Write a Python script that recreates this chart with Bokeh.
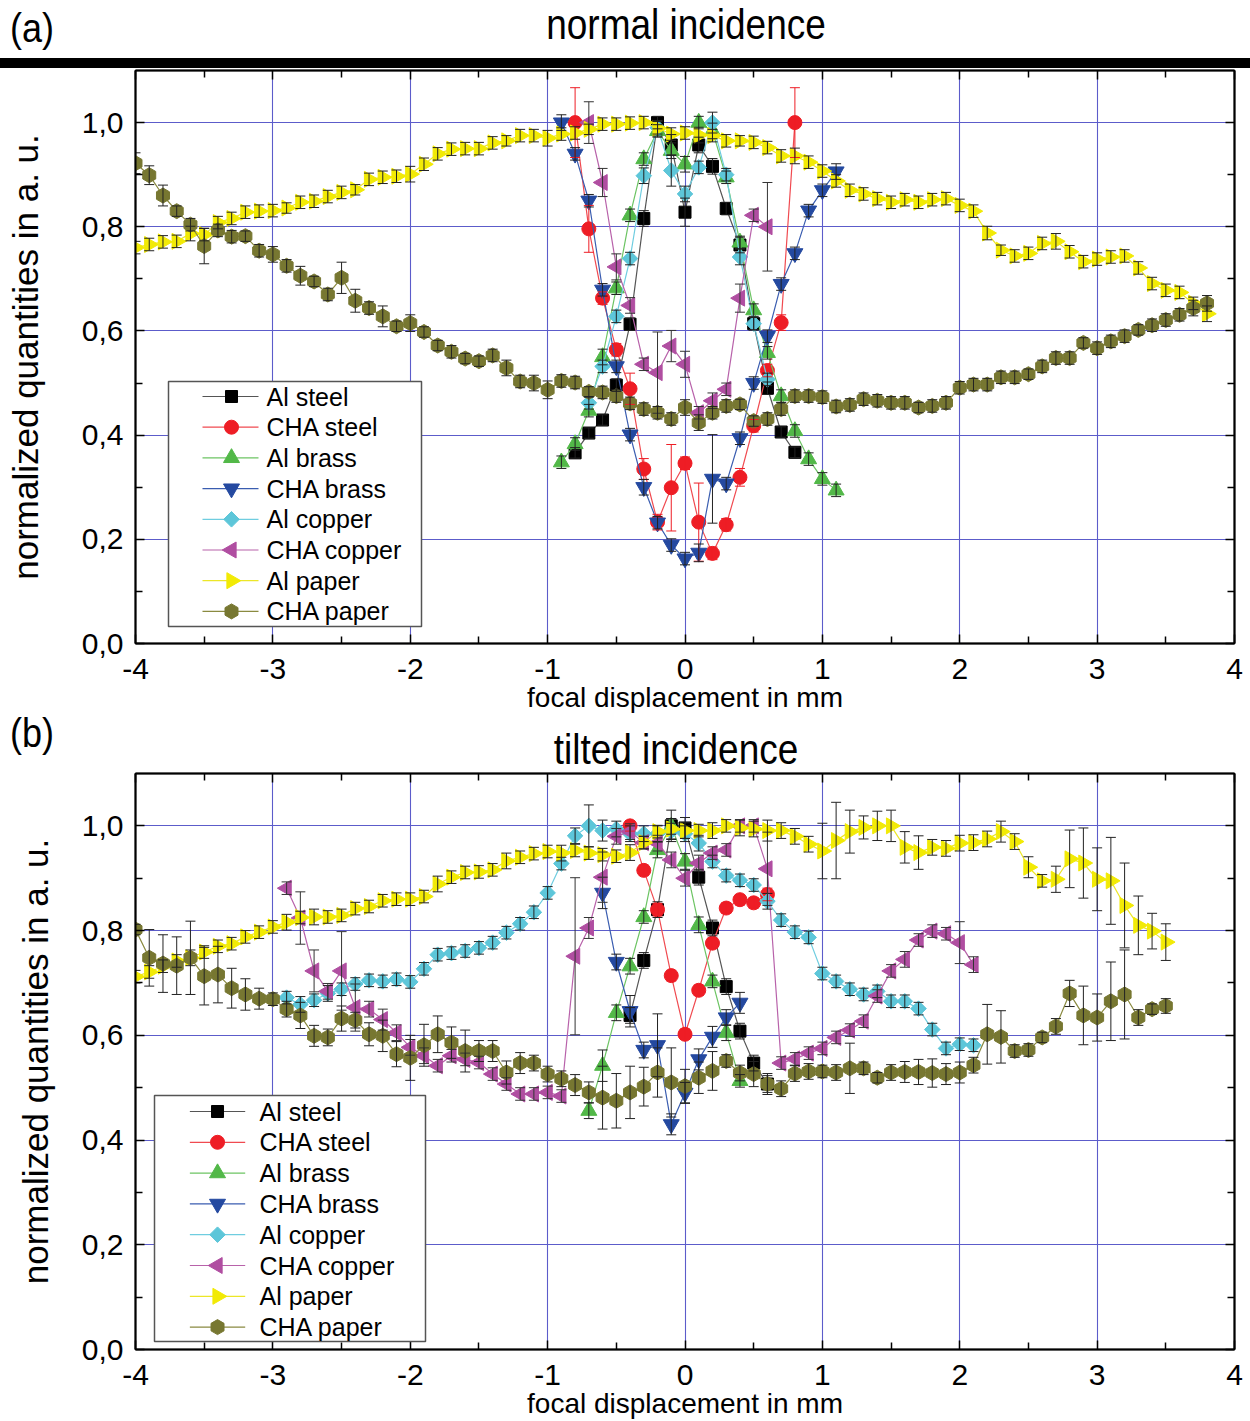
import math
from bokeh.plotting import figure
from bokeh.models import (ColumnDataSource, Whisker, TeeHead, FixedTicker, LinearAxis,
                          Range1d, Label, BoxAnnotation, CustomJSTickFormatter, Div)
from bokeh.layouts import column
from bokeh.embed import file_html
from bokeh.resources import INLINE


def grid(start, n):
    return [round(start + 0.1 * i, 1) for i in range(n)]


SERIES = ["Al steel", "CHA steel", "Al brass", "CHA brass",
          "Al copper", "CHA copper", "Al paper", "CHA paper"]
X_TICKS = [-4, -3, -2, -1, 0, 1, 2, 3, 4]
Y_TICKS = [0.0, 0.2, 0.4, 0.6, 0.8, 1.0]

# ---------------- panel (a): normal incidence ----------------
A_PAPER_X = grid(-4.0, 79)
A_AL_PAPER_Y = [0.760, 0.766, 0.771, 0.772, 0.787, 0.785, 0.808, 0.816, 0.828, 0.830,
                0.831, 0.836, 0.847, 0.849, 0.858, 0.866, 0.871, 0.891, 0.895, 0.897,
                0.901, 0.920, 0.940, 0.949, 0.950, 0.950, 0.961, 0.965, 0.975, 0.975,
                0.970, 0.978, 0.980, 0.987, 0.997, 0.997, 0.999, 1.000, 0.989, 0.978,
                0.980, 0.976, 0.975, 0.965, 0.965, 0.962, 0.952, 0.936, 0.936, 0.924,
                0.907, 0.888, 0.870, 0.863, 0.854, 0.847, 0.852, 0.847, 0.852, 0.854,
                0.841, 0.830, 0.788, 0.755, 0.744, 0.749, 0.768, 0.772, 0.752, 0.733,
                0.738, 0.742, 0.744, 0.721, 0.691, 0.678, 0.674, 0.653, 0.633]
A_AL_PAPER_E = [0.012, 0.012, 0.012, 0.012, 0.014, 0.012, 0.012, 0.012, 0.012, 0.012,
                0.012, 0.010, 0.012, 0.012, 0.012, 0.012, 0.010, 0.012, 0.012, 0.012,
                0.015, 0.012, 0.012, 0.012, 0.012, 0.012, 0.012, 0.010, 0.012, 0.012,
                0.015, 0.012, 0.012, 0.010, 0.012, 0.012, 0.012, 0.012, 0.015, 0.012,
                0.012, 0.015, 0.012, 0.012, 0.010, 0.012, 0.012, 0.012, 0.015, 0.012,
                0.012, 0.012, 0.012, 0.012, 0.012, 0.012, 0.012, 0.012, 0.012, 0.012,
                0.012, 0.012, 0.013, 0.010, 0.012, 0.012, 0.012, 0.015, 0.012, 0.012,
                0.012, 0.012, 0.012, 0.012, 0.012, 0.012, 0.012, 0.012, 0.015]
A_CHA_PAPER_Y = [0.922, 0.899, 0.860, 0.830, 0.804, 0.763, 0.793, 0.781, 0.782, 0.754,
                 0.747, 0.725, 0.706, 0.695, 0.670, 0.702, 0.658, 0.644, 0.628, 0.609,
                 0.615, 0.598, 0.572, 0.560, 0.547, 0.542, 0.553, 0.529, 0.503, 0.500,
                 0.487, 0.504, 0.501, 0.483, 0.482, 0.475, 0.461, 0.450, 0.443, 0.431,
                 0.453, 0.424, 0.443, 0.456, 0.459, 0.427, 0.431, 0.450, 0.475, 0.475,
                 0.473, 0.455, 0.458, 0.469, 0.466, 0.462, 0.462, 0.453, 0.456, 0.462,
                 0.491, 0.497, 0.497, 0.511, 0.511, 0.517, 0.532, 0.548, 0.548, 0.577,
                 0.567, 0.580, 0.590, 0.602, 0.611, 0.621, 0.631, 0.644, 0.653]
A_CHA_PAPER_E = [0.020, 0.018, 0.020, 0.010, 0.012, 0.034, 0.012, 0.012, 0.010, 0.012,
                 0.015, 0.012, 0.018, 0.010, 0.012, 0.030, 0.022, 0.012, 0.020, 0.010,
                 0.016, 0.010, 0.010, 0.012, 0.010, 0.010, 0.012, 0.015, 0.012, 0.015,
                 0.017, 0.012, 0.012, 0.010, 0.012, 0.012, 0.012, 0.012, 0.012, 0.012,
                 0.015, 0.015, 0.012, 0.012, 0.010, 0.010, 0.012, 0.012, 0.012, 0.012,
                 0.012, 0.012, 0.012, 0.012, 0.012, 0.012, 0.012, 0.010, 0.012, 0.012,
                 0.012, 0.012, 0.012, 0.012, 0.012, 0.010, 0.012, 0.012, 0.012, 0.010,
                 0.012, 0.012, 0.012, 0.010, 0.012, 0.012, 0.012, 0.015, 0.015]

A_STEEL_X = grid(-0.8, 17)
A_AL_STEEL_Y = [0.366, 0.404, 0.429, 0.496, 0.613, 0.816, 1.000, 0.957, 0.828, 0.957,
                0.916, 0.835, 0.765, 0.614, 0.490, 0.406, 0.367]
A_AL_STEEL_E = [0.010, 0.010, 0.010, 0.012, 0.012, 0.015, 0.012, 0.020, 0.027, 0.015,
                0.015, 0.012, 0.015, 0.012, 0.012, 0.010, 0.010]
A_CHA_STEEL_Y = [1.000, 0.796, 0.663, 0.564, 0.489, 0.335, 0.233, 0.299, 0.346, 0.233,
                 0.173, 0.228, 0.319, 0.418, 0.524, 0.616, 1.000]
A_CHA_STEEL_E = [0.067, 0.045, 0.012, 0.012, 0.030, 0.020, 0.015, 0.083, 0.012, 0.075,
                 0.012, 0.012, 0.017, 0.012, 0.012, 0.015, 0.067]
A_BRASS_X = grid(-0.9, 21)
A_AL_BRASS_Y = [0.348, 0.383, 0.447, 0.550, 0.682, 0.822, 0.930, 0.984, 0.946, 0.920,
                1.000, 0.984, 0.895, 0.770, 0.640, 0.558, 0.475, 0.408, 0.354, 0.316, 0.294]
A_AL_BRASS_E = [0.012, 0.012, 0.012, 0.015, 0.012, 0.012, 0.012, 0.012, 0.015, 0.015,
                0.012, 0.015, 0.012, 0.012, 0.012, 0.012, 0.012, 0.012, 0.012, 0.012, 0.012]
A_CHA_BRASS_Y = [1.000, 0.940, 0.850, 0.679, 0.532, 0.401, 0.300, 0.232, 0.189, 0.163,
                 0.174, 0.316, 0.307, 0.394, 0.500, 0.590, 0.690, 0.749, 0.831, 0.870, 0.906]
A_CHA_BRASS_E = [0.015, 0.012, 0.012, 0.012, 0.012, 0.012, 0.015, 0.012, 0.012, 0.012,
                 0.017, 0.085, 0.012, 0.012, 0.012, 0.012, 0.012, 0.012, 0.012, 0.012, 0.015]
A_COPPER_X = grid(-0.7, 14)
A_AL_COPPER_Y = [0.462, 0.532, 0.628, 0.739, 0.898, 0.990, 0.908, 0.863, 0.914, 1.000,
                 0.900, 0.742, 0.614, 0.507]
A_AL_COPPER_E = [0.012, 0.012, 0.012, 0.012, 0.015, 0.012, 0.030, 0.015, 0.012, 0.020,
                 0.012, 0.015, 0.012, 0.012]
A_CHA_COPPER_Y = [1.000, 0.885, 0.723, 0.649, 0.536, 0.520, 0.571, 0.536, 0.443, 0.466,
                  0.488, 0.663, 0.822, 0.800]
A_CHA_COPPER_E = [0.040, 0.027, 0.025, 0.015, 0.012, 0.078, 0.030, 0.025, 0.012, 0.015,
                  0.012, 0.027, 0.012, 0.085]

# ---------------- panel (b): tilted incidence ----------------
B_PAPER_X = grid(-4.0, 76)
B_AL_PAPER_Y = [0.712, 0.721, 0.732, 0.742, 0.748, 0.759, 0.770, 0.775, 0.788, 0.797,
                0.807, 0.816, 0.825, 0.826, 0.826, 0.829, 0.842, 0.846, 0.857, 0.860,
                0.860, 0.865, 0.889, 0.902, 0.911, 0.912, 0.916, 0.933, 0.940, 0.947,
                0.951, 0.948, 0.953, 0.948, 0.945, 0.942, 0.949, 0.968, 0.989, 0.994,
                0.991, 0.991, 0.991, 1.000, 0.996, 0.994, 0.991, 0.991, 0.980, 0.965,
                0.952, 0.972, 0.989, 0.997, 1.000, 1.000, 0.959, 0.949, 0.959, 0.957,
                0.967, 0.968, 0.975, 0.989, 0.970, 0.921, 0.895, 0.898, 0.937, 0.929,
                0.898, 0.895, 0.848, 0.810, 0.799, 0.778]
B_AL_PAPER_E = [0.012, 0.012, 0.012, 0.012, 0.015, 0.012, 0.012, 0.012, 0.012, 0.012,
                0.012, 0.015, 0.012, 0.015, 0.012, 0.012, 0.012, 0.012, 0.012, 0.012,
                0.012, 0.012, 0.015, 0.012, 0.012, 0.012, 0.012, 0.015, 0.012, 0.012,
                0.012, 0.015, 0.012, 0.012, 0.012, 0.012, 0.015, 0.012, 0.012, 0.020,
                0.015, 0.012, 0.015, 0.012, 0.015, 0.015, 0.020, 0.015, 0.015, 0.015,
                0.053, 0.073, 0.041, 0.022, 0.028, 0.030, 0.030, 0.032, 0.015, 0.015,
                0.015, 0.015, 0.015, 0.020, 0.015, 0.020, 0.012, 0.025, 0.055, 0.067,
                0.060, 0.083, 0.081, 0.056, 0.034, 0.035]
B_CHA_PAPER_Y = [0.802, 0.748, 0.737, 0.733, 0.748, 0.713, 0.716, 0.690, 0.678, 0.670,
                 0.669, 0.650, 0.638, 0.599, 0.596, 0.632, 0.629, 0.602, 0.599, 0.564,
                 0.557, 0.581, 0.602, 0.586, 0.570, 0.570, 0.570, 0.529, 0.547, 0.547,
                 0.526, 0.517, 0.505, 0.491, 0.481, 0.475, 0.491, 0.502, 0.529, 0.510,
                 0.503, 0.519, 0.532, 0.551, 0.528, 0.526, 0.507, 0.498, 0.527, 0.531,
                 0.531, 0.529, 0.537, 0.537, 0.519, 0.529, 0.530, 0.530, 0.528, 0.526,
                 0.529, 0.543, 0.602, 0.597, 0.570, 0.572, 0.596, 0.617, 0.680, 0.638,
                 0.634, 0.665, 0.678, 0.634, 0.650, 0.656]
B_CHA_PAPER_E = [0.010, 0.054, 0.055, 0.055, 0.070, 0.055, 0.054, 0.038, 0.030, 0.020,
                 0.012, 0.015, 0.025, 0.020, 0.016, 0.024, 0.015, 0.022, 0.030, 0.024,
                 0.043, 0.040, 0.035, 0.030, 0.040, 0.020, 0.020, 0.022, 0.020, 0.015,
                 0.015, 0.015, 0.020, 0.020, 0.060, 0.052, 0.050, 0.037, 0.047, 0.066,
                 0.032, 0.030, 0.037, 0.012, 0.015, 0.024, 0.016, 0.015, 0.015, 0.015,
                 0.012, 0.015, 0.048, 0.012, 0.010, 0.015, 0.020, 0.024, 0.027, 0.020,
                 0.020, 0.015, 0.057, 0.050, 0.012, 0.012, 0.010, 0.015, 0.025, 0.056,
                 0.045, 0.075, 0.085, 0.015, 0.010, 0.014]
B_COPPER_X = grid(-2.9, 51)
B_AL_COPPER_Y = [0.672, 0.659, 0.667, 0.680, 0.688, 0.698, 0.705, 0.703, 0.707, 0.702,
                 0.727, 0.754, 0.757, 0.761, 0.767, 0.777, 0.796, 0.813, 0.835, 0.872,
                 0.928, 0.981, 1.000, 0.991, 0.994, 0.985, 0.985, 0.985, 0.990, 0.985,
                 0.967, 0.932, 0.905, 0.896, 0.887, 0.856, 0.820, 0.797, 0.787, 0.718,
                 0.703, 0.688, 0.678, 0.684, 0.665, 0.665, 0.651, 0.611, 0.575, 0.583, 0.581]
B_AL_COPPER_E = [0.012, 0.015, 0.012, 0.015, 0.012, 0.012, 0.012, 0.012, 0.012, 0.012,
                 0.012, 0.012, 0.012, 0.012, 0.012, 0.012, 0.012, 0.012, 0.012, 0.012,
                 0.012, 0.015, 0.040, 0.020, 0.015, 0.015, 0.015, 0.015, 0.015, 0.015,
                 0.015, 0.012, 0.012, 0.012, 0.012, 0.015, 0.012, 0.012, 0.012, 0.012,
                 0.012, 0.012, 0.012, 0.012, 0.012, 0.012, 0.012, 0.012, 0.012, 0.012, 0.012]
B_CHA_COPPER_Y = [0.881, 0.824, 0.723, 0.684, 0.723, 0.653, 0.650, 0.630, 0.605, 0.577,
                  0.561, 0.542, 0.561, 0.554, 0.548, 0.526, 0.507, 0.488, 0.488, 0.491,
                  0.484, 0.751, 0.805, 0.902, 0.980, 0.989, 0.968, 0.967, 0.935, 0.900,
                  0.929, 0.948, 0.954, 1.000, 1.000, 0.918, 0.547, 0.555, 0.566, 0.575,
                  0.596, 0.610, 0.627, 0.675, 0.723, 0.745, 0.782, 0.799, 0.794, 0.777, 0.735]
B_CHA_COPPER_E = [0.012, 0.050, 0.040, 0.015, 0.075, 0.045, 0.015, 0.020, 0.015, 0.015,
                  0.015, 0.012, 0.012, 0.012, 0.012, 0.012, 0.012, 0.012, 0.012, 0.012,
                  0.012, 0.150, 0.020, 0.048, 0.015, 0.015, 0.012, 0.015, 0.015, 0.015,
                  0.015, 0.012, 0.012, 0.012, 0.012, 0.070, 0.012, 0.012, 0.012, 0.012,
                  0.012, 0.012, 0.012, 0.012, 0.012, 0.015, 0.012, 0.012, 0.012, 0.040, 0.015]
B_STEEL_X = grid(-0.4, 11)
B_AL_STEEL_Y = [0.638, 0.743, 0.840, 1.000, 0.996, 0.902, 0.805, 0.693, 0.608, 0.547, 0.507]
B_AL_STEEL_E = [0.015, 0.015, 0.015, 0.030, 0.020, 0.015, 0.015, 0.015, 0.015, 0.015, 0.020]
B_CHA_STEEL_Y = [1.000, 0.915, 0.840, 0.714, 0.602, 0.686, 0.776, 0.843, 0.859, 0.853, 0.869]
B_CHA_STEEL_E = [0.010, 0.010, 0.012, 0.010, 0.010, 0.010, 0.010, 0.010, 0.010, 0.010, 0.012]
B_AL_BRASS_X = grid(-0.7, 12)
B_AL_BRASS_Y = [0.456, 0.542, 0.643, 0.732, 0.826, 0.954, 0.999, 0.932, 0.811, 0.703, 0.605, 0.513]
B_AL_BRASS_E = [0.015, 0.030, 0.015, 0.015, 0.012, 0.015, 0.015, 0.015, 0.015, 0.012, 0.015, 0.012]
B_CHA_BRASS_X = grid(-0.6, 11)
B_CHA_BRASS_Y = [0.872, 0.740, 0.646, 0.572, 0.581, 0.430, 0.490, 0.554, 0.597, 0.634, 0.662]
B_CHA_BRASS_E = [0.030, 0.015, 0.030, 0.015, 0.060, 0.020, 0.020, 0.020, 0.020, 0.015, 0.020]

# ---------------- styling ----------------
STYLE = {
    "Al steel":   dict(marker="square", angle=0.0, size=12, color="#000000", err="#222222"),
    "CHA steel":  dict(marker="circle", angle=0.0, size=14, color="#ee1d25", err="#ee1d25"),
    "Al brass":   dict(marker="triangle", angle=0.0, size=16, color="#52b848", err="#222222"),
    "CHA brass":  dict(marker="inverted_triangle", angle=0.0, size=16, color="#2449a0", err="#222222"),
    "Al copper":  dict(marker="square", angle=math.pi / 4, size=11, color="#5dc6d9", err="#222222"),
    "CHA copper": dict(marker="triangle", angle=math.pi / 2, size=16, color="#b04ea1", err="#333333"),
    "Al paper":   dict(marker="triangle", angle=-math.pi / 2, size=16, color="#f2ea05", err="#222222"),
    "CHA paper":  dict(marker="hex", angle=math.pi / 2, size=15, color="#777731", err="#222222"),
}
LINE_COL = {"Al steel": "#555555", "CHA steel": "#f04a50", "Al brass": "#6cc463",
            "CHA brass": "#3a5db0", "Al copper": "#6fcde0", "CHA copper": "#b862aa",
            "Al paper": "#ece628", "CHA paper": "#8a8a40"}
FONT = "Liberation Sans"
GRID = "#5c5cca"
PAGE_W = 1250


def make_panel(data, height, mb, yl_standoff, legend):
    p = figure(width=PAGE_W, height=height, x_range=Range1d(-4, 4), y_range=Range1d(0, 1.1),
               output_backend="svg", toolbar_location=None,
               min_border_left=mb[0], min_border_right=mb[1],
               min_border_top=mb[2], min_border_bottom=mb[3])
    p.background_fill_color = "white"
    p.border_fill_color = "white"
    p.outline_line_color = "black"
    p.outline_line_width = 1.5

    xt = FixedTicker(ticks=X_TICKS, minor_ticks=[t + 0.5 for t in X_TICKS[:-1]])
    yt = FixedTicker(ticks=Y_TICKS, minor_ticks=[0.1, 0.3, 0.5, 0.7, 0.9])

    p.xgrid.ticker = FixedTicker(ticks=X_TICKS[1:-1])
    p.ygrid.ticker = FixedTicker(ticks=Y_TICKS[1:])
    for g in (p.xgrid[0], p.ygrid[0]):
        g.grid_line_color = GRID
        g.grid_line_width = 1.1
        g.grid_line_alpha = 1.0

    xa = p.xaxis[0]
    xa.ticker = xt
    xa.formatter = CustomJSTickFormatter(code="return tick.toFixed(0);")
    xa.axis_label = "focal displacement in mm"
    ya = p.yaxis[0]
    ya.ticker = yt
    ya.formatter = CustomJSTickFormatter(code="return tick.toFixed(1).replace('.', ',');")
    ya.axis_label = "normalized quantities in a. u."

    blank = "return '';"
    top = LinearAxis(ticker=xt, formatter=CustomJSTickFormatter(code=blank),
                     major_label_text_font_size="1px", major_label_standoff=0)
    right = LinearAxis(ticker=yt, formatter=CustomJSTickFormatter(code=blank),
                       major_label_text_font_size="1px", major_label_standoff=0)
    p.add_layout(top, "above")
    p.add_layout(right, "right")

    for ax in (xa, ya, top, right):
        ax.axis_line_color = "black"
        ax.axis_line_width = 2
        ax.major_tick_line_color = "black"
        ax.minor_tick_line_color = "black"
        ax.major_tick_line_width = 1.5
        ax.minor_tick_line_width = 1.5
        ax.major_tick_in = 9
        ax.major_tick_out = 0
        ax.minor_tick_in = 7
        ax.minor_tick_out = 0
    for ax in (xa, ya):
        ax.major_label_text_font = FONT
        ax.major_label_text_font_size = "30px"
        ax.major_label_text_color = "black"
        ax.axis_label_text_font = FONT
        ax.axis_label_text_font_style = "normal"
        ax.axis_label_text_color = "black"
    xa.major_label_standoff = 15
    xa.axis_label_standoff = 0
    xa.axis_label_text_font_size = "28px"
    ya.major_label_standoff = 12
    ya.axis_label_standoff = yl_standoff
    ya.axis_label_text_font_size = "35px"

    for name, xs, ys, es in data:
        st = STYLE[name]
        src = ColumnDataSource(dict(x=xs, y=ys,
                                    lo=[y - e for y, e in zip(ys, es)],
                                    hi=[y + e for y, e in zip(ys, es)]))
        p.line("x", "y", source=src, line_color=LINE_COL[name], line_width=1.2)
        p.scatter("x", "y", source=src, marker=st["marker"], size=st["size"],
                  angle=st["angle"], fill_color=st["color"], line_color=st["color"],
                  line_width=1)
        w = Whisker(source=src, base="x", lower="lo", upper="hi", level="glyph",
                    line_color=st["err"], line_width=1,
                    upper_head=TeeHead(size=10, line_color=st["err"], line_width=1),
                    lower_head=TeeHead(size=10, line_color=st["err"], line_width=1))
        p.add_layout(w)

    # legend (box, sample line, rotated marker and label for every series)
    fw = PAGE_W - mb[0] - mb[1]
    fh = height - mb[2] - mb[3]
    box, line_x, marker_x, text_x, row_top, pitch = legend
    p.add_layout(BoxAnnotation(left=box[0], right=box[1], bottom=box[2], top=box[3],
                               left_units="screen", right_units="screen",
                               bottom_units="screen", top_units="screen",
                               fill_color="white", fill_alpha=1.0,
                               line_color="#555555", line_width=1.5, line_alpha=1.0,
                               level="annotation"))

    def sx(px):
        return -4 + px * 8.0 / fw

    def sy(py):
        return py * 1.1 / fh

    for i, name in enumerate(SERIES):
        st = STYLE[name]
        py = row_top - i * pitch
        p.line([sx(line_x[0]), sx(line_x[1])], [sy(py), sy(py)],
               line_color=LINE_COL[name], line_width=1.2, level="overlay")
        p.scatter([sx(marker_x)], [sy(py)], marker=st["marker"], size=st["size"],
                  angle=st["angle"], fill_color=st["color"], line_color=st["color"],
                  level="overlay")
        p.add_layout(Label(x=text_x, y=py, x_units="screen", y_units="screen",
                           text=name, text_font=FONT, text_font_size="25px",
                           text_align="left", text_baseline="middle",
                           text_color="black", level="overlay"))
    return p


def header(tag, tag_top, title, title_cx, title_top, height):
    html = (
        f'<div style="position:relative;width:{PAGE_W}px;height:{height}px;'
        f'font-family:\'Liberation Sans\', Arial, sans-serif;color:#000;">'
        f'<span style="position:absolute;left:10px;top:{tag_top}px;font-size:40px;'
        f'line-height:40px;white-space:nowrap;display:inline-block;'
        f'transform:scaleX(0.9);transform-origin:left center;">{tag}</span>'
        f'<span style="position:absolute;left:{title_cx}px;top:{title_top}px;font-size:43px;'
        f'line-height:44px;white-space:nowrap;display:inline-block;'
        f'transform:translateX(-50%) scaleX(0.86);">{title}</span>'
        f'</div>')
    return Div(text=html, width=PAGE_W, height=height, margin=0)


data_a = [
    ("Al steel", A_STEEL_X, A_AL_STEEL_Y, A_AL_STEEL_E),
    ("CHA steel", A_STEEL_X, A_CHA_STEEL_Y, A_CHA_STEEL_E),
    ("Al brass", A_BRASS_X, A_AL_BRASS_Y, A_AL_BRASS_E),
    ("CHA brass", A_BRASS_X, A_CHA_BRASS_Y, A_CHA_BRASS_E),
    ("Al copper", A_COPPER_X, A_AL_COPPER_Y, A_AL_COPPER_E),
    ("CHA copper", A_COPPER_X, A_CHA_COPPER_Y, A_CHA_COPPER_E),
    ("Al paper", A_PAPER_X, A_AL_PAPER_Y, A_AL_PAPER_E),
    ("CHA paper", A_PAPER_X, A_CHA_PAPER_Y, A_CHA_PAPER_E),
]
data_b = [
    ("Al steel", B_STEEL_X, B_AL_STEEL_Y, B_AL_STEEL_E),
    ("CHA steel", B_STEEL_X, B_CHA_STEEL_Y, B_CHA_STEEL_E),
    ("Al brass", B_AL_BRASS_X, B_AL_BRASS_Y, B_AL_BRASS_E),
    ("CHA brass", B_CHA_BRASS_X, B_CHA_BRASS_Y, B_CHA_BRASS_E),
    ("Al copper", B_COPPER_X, B_AL_COPPER_Y, B_AL_COPPER_E),
    ("CHA copper", B_COPPER_X, B_CHA_COPPER_Y, B_CHA_COPPER_E),
    ("Al paper", B_PAPER_X, B_AL_PAPER_Y, B_AL_PAPER_E),
    ("CHA paper", B_PAPER_X, B_CHA_PAPER_Y, B_CHA_PAPER_E),
]

head_a = header("(a)", 8, "normal incidence", 686, 2, 58)
bar_a = Div(text="", width=PAGE_W, height=10, margin=0,
            styles={"background-color": "black"})
# frame of (a): x 135..1234, y 70..643
pa = make_panel(data_a, height=647, mb=(135, 16, 2, 72), yl_standoff=34,
                legend=((33, 286, 17, 262), (67, 123), 96, 131, 247, 30.7))
head_b = header("(b)", -2, "tilted incidence", 676, 12, 56)
# frame of (b): x 128..1240, y 773..1349
pb = make_panel(data_b, height=650, mb=(128, 10, 2, 72), yl_standoff=24,
                legend=((19, 290, 8, 254), (55, 111), 83, 124, 238, 30.8))

layout = column(head_a, bar_a, pa, head_b, pb, spacing=0)
open("out.html", "w").write(file_html(layout, INLINE))
